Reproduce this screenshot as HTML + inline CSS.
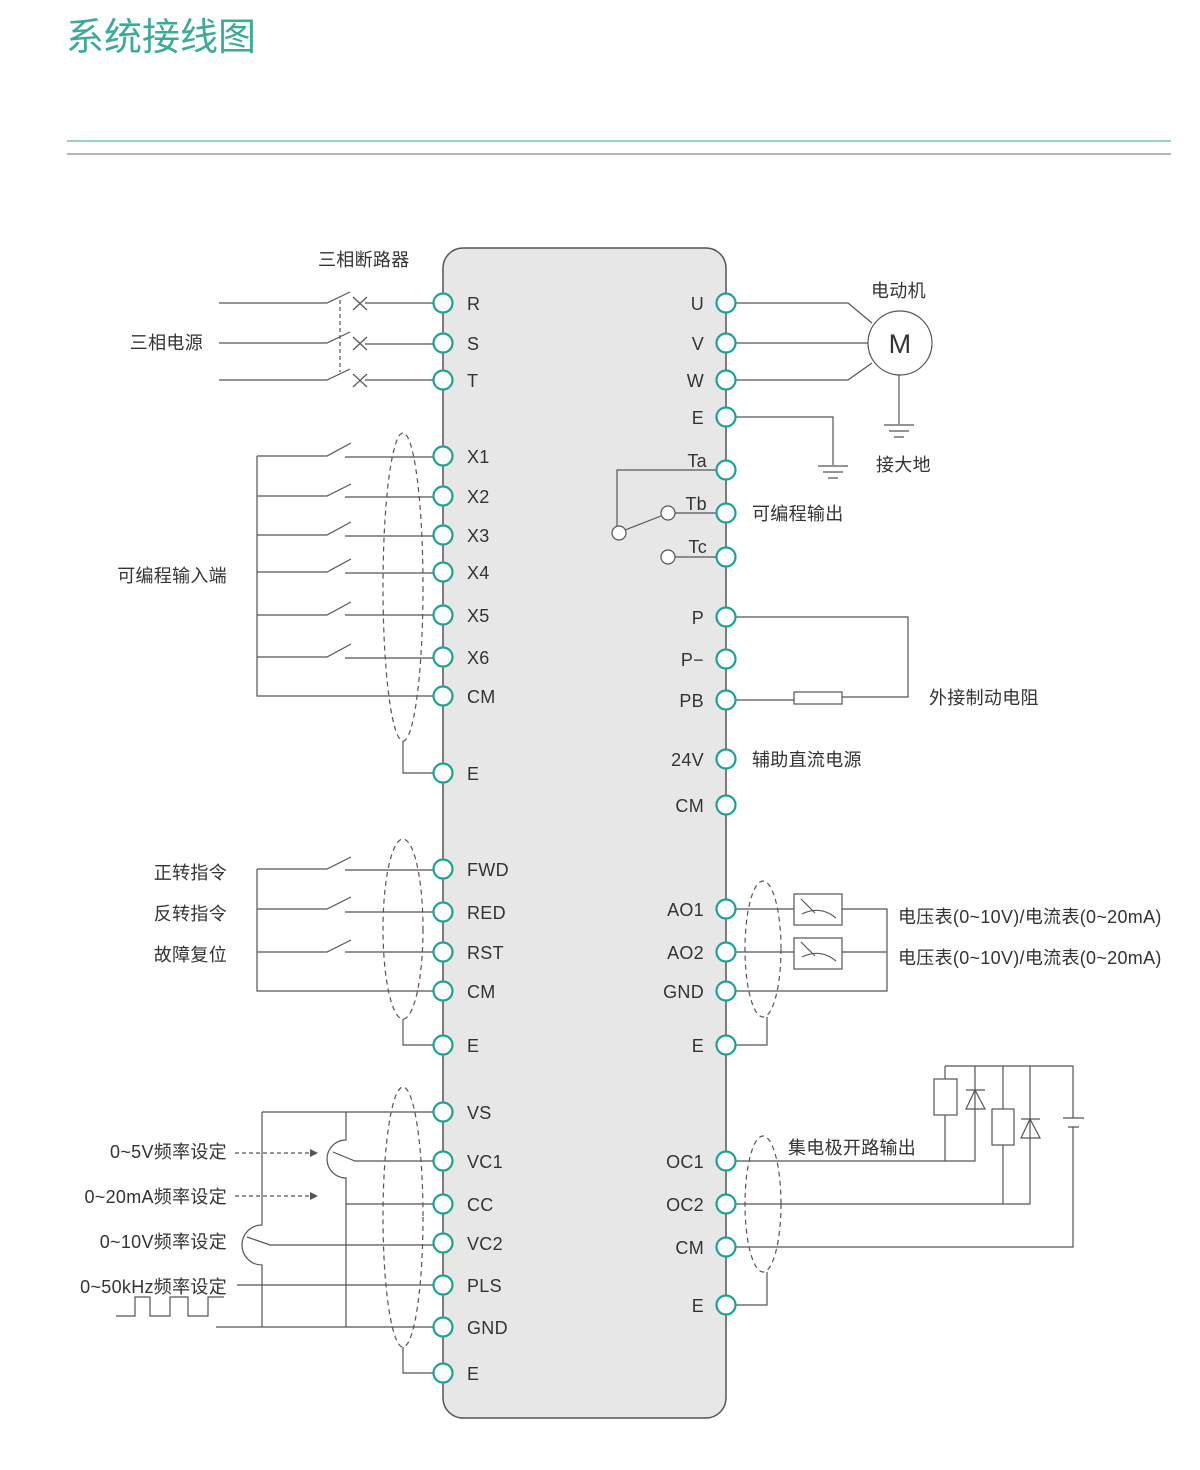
<!DOCTYPE html>
<html><head><meta charset="utf-8"><style>
html,body{margin:0;padding:0;background:#fff;}
svg{display:block;}
text{font-family:"Liberation Sans","Noto Sans CJK SC",sans-serif;fill:#333;font-size:18px;letter-spacing:0.3px;}
</style></head><body>
<svg width="1200" height="1470" viewBox="0 0 1200 1470" xmlns="http://www.w3.org/2000/svg">
<text x="66" y="50" style="font-size:38px;fill:#3aab98;letter-spacing:0;">系统接线图</text>
<line x1="67" y1="141" x2="1171" y2="141" stroke="#5fb5a8" stroke-width="1.2"/>
<line x1="67" y1="154" x2="1171" y2="154" stroke="#888" stroke-width="1.2"/>

<rect x="443" y="248" width="283" height="1170" rx="20" fill="#e8e7e7" stroke="#555" stroke-width="1.5"/>

<g stroke="#555" stroke-width="1.2" fill="none">
<path d="M219 303H327L350 292M365 303H433M219 343H327L350 332M365 344H433M219 380H327L350 369M365 380H433"/>
<path d="M353 297l14 13M367 297l-14 13M353 337l14 13M367 337l-14 13M353 374l14 13M367 374l-14 13"/>
<path d="M340 300V372" stroke-dasharray="4,3"/>
<path d="M257 456V696H433"/>
<path d="M257 456H327L351 443M345 457H433"/>
<path d="M257 496H327L351 484M345 497H433"/>
<path d="M257 535H327L351 522M345 536H433"/>
<path d="M257 572H327L351 559M345 573H433"/>
<path d="M257 615H327L351 602M345 615H433"/>
<path d="M257 657H327L351 644M345 658H433"/>
<ellipse cx="403" cy="587" rx="20" ry="154" stroke-dasharray="5,4"/>
<path d="M403 741V773H433"/>
<path d="M257 869V991H433"/>
<path d="M257 869H327L351 857M345 870H433"/>
<path d="M257 909H327L351 897M345 912H433"/>
<path d="M257 952H327L351 940M345 952H433"/>
<ellipse cx="403" cy="929" rx="20" ry="90" stroke-dasharray="5,4"/>
<path d="M403 1019V1045H433"/>
<path d="M262 1112H433M262 1112V1225A20 20 0 0 0 262 1265V1327"/>
<path d="M346 1112V1140A19 19 0 0 0 346 1178V1327"/>
<path d="M333 1152L355 1161H433M346 1204H433M247 1237L270 1245H433M237 1285H433M216 1327H433"/>
<path d="M116 1316H135V1297H150V1316H170V1297H188V1316H208V1297H224"/>
<path d="M235 1153H310M235 1196H310" stroke-dasharray="4,3"/>
<ellipse cx="403" cy="1217" rx="20" ry="130" stroke-dasharray="5,4"/>
<path d="M403 1347V1373H433"/>
<path d="M736 303H848L872 323M736 343H868M736 380H848L872 363"/>
<circle cx="900" cy="343" r="32"/>
<path d="M899 375V424M884 425H914M889 431H909M894 437H904"/>
<path d="M736 417H833V465M818 466H848M823 472H843M828 478H838"/>
<path d="M716 470H617V527M625 530L661 516M675 513H716M675 557H716"/>
<circle cx="619" cy="533" r="7" fill="#fff"/>
<circle cx="668" cy="513" r="7" fill="#fff"/>
<circle cx="668" cy="557" r="7" fill="#fff"/>
<path d="M736 617H908V697H842M736 700H794"/>
<rect x="794" y="692" width="48" height="12" fill="#fff"/>
<path d="M736 909H794M842 909H887V991H736M736 952H794M842 952H887"/>
<rect x="794" y="894" width="48" height="31"/>
<rect x="794" y="938" width="48" height="31"/>
<path d="M801 899L815 913M802 914Q820 905 836 918M801 942L815 956M802 957Q820 948 836 961"/>
<ellipse cx="763" cy="949" rx="18" ry="68" stroke-dasharray="5,4"/>
<path d="M767 1017V1045H736"/>
<path d="M945 1066H1073V1118M1073 1127V1247H736M945 1066V1079M945 1115V1161M975 1066V1161H736M1003 1066V1109M1003 1145V1204M1030 1066V1204H736"/>
<rect x="934" y="1079" width="23" height="36"/>
<rect x="992" y="1109" width="22" height="36"/>
<path d="M966 1090H985M975 1090L966 1109H985Z M1021 1119H1040M1030 1119L1021 1138H1040Z"/>
<path d="M1063 1118H1084M1068 1127H1079"/>
<ellipse cx="763" cy="1204" rx="18" ry="68" stroke-dasharray="5,4"/>
<path d="M767 1272V1305H736"/>
</g>
<g fill="#555">
<path d="M310 1149L318 1153L310 1157Z"/>
<path d="M310 1192L318 1196L310 1200Z"/>
</g>

<g fill="#fff" stroke="#1aa393" stroke-width="2.2">
<circle cx="443" cy="303" r="9.5"/><circle cx="443" cy="343" r="9.5"/><circle cx="443" cy="380" r="9.5"/>
<circle cx="443" cy="456" r="9.5"/><circle cx="443" cy="496" r="9.5"/><circle cx="443" cy="535" r="9.5"/>
<circle cx="443" cy="572" r="9.5"/><circle cx="443" cy="615" r="9.5"/><circle cx="443" cy="657" r="9.5"/>
<circle cx="443" cy="696" r="9.5"/><circle cx="443" cy="773" r="9.5"/>
<circle cx="443" cy="869" r="9.5"/><circle cx="443" cy="912" r="9.5"/><circle cx="443" cy="952" r="9.5"/>
<circle cx="443" cy="991" r="9.5"/><circle cx="443" cy="1045" r="9.5"/>
<circle cx="443" cy="1112" r="9.5"/><circle cx="443" cy="1161" r="9.5"/><circle cx="443" cy="1204" r="9.5"/>
<circle cx="443" cy="1243" r="9.5"/><circle cx="443" cy="1285" r="9.5"/><circle cx="443" cy="1327" r="9.5"/>
<circle cx="443" cy="1373" r="9.5"/>
<circle cx="726" cy="303" r="9.5"/><circle cx="726" cy="343" r="9.5"/><circle cx="726" cy="380" r="9.5"/>
<circle cx="726" cy="417" r="9.5"/><circle cx="726" cy="470" r="9.5"/><circle cx="726" cy="513" r="9.5"/>
<circle cx="726" cy="557" r="9.5"/><circle cx="726" cy="617" r="9.5"/><circle cx="726" cy="659" r="9.5"/>
<circle cx="726" cy="700" r="9.5"/><circle cx="726" cy="759" r="9.5"/><circle cx="726" cy="805" r="9.5"/>
<circle cx="726" cy="909" r="9.5"/><circle cx="726" cy="952" r="9.5"/><circle cx="726" cy="991" r="9.5"/>
<circle cx="726" cy="1045" r="9.5"/><circle cx="726" cy="1161" r="9.5"/><circle cx="726" cy="1204" r="9.5"/>
<circle cx="726" cy="1247" r="9.5"/><circle cx="726" cy="1305" r="9.5"/>
</g>

<g>
<text x="467" y="310">R</text><text x="467" y="350">S</text><text x="467" y="387">T</text>
<text x="467" y="463">X1</text><text x="467" y="503">X2</text><text x="467" y="542">X3</text>
<text x="467" y="579">X4</text><text x="467" y="622">X5</text><text x="467" y="664">X6</text>
<text x="467" y="703">CM</text><text x="467" y="780">E</text>
<text x="467" y="876">FWD</text><text x="467" y="919">RED</text><text x="467" y="959">RST</text>
<text x="467" y="998">CM</text><text x="467" y="1052">E</text>
<text x="467" y="1119">VS</text><text x="467" y="1168">VC1</text><text x="467" y="1211">CC</text>
<text x="467" y="1250">VC2</text><text x="467" y="1292">PLS</text><text x="467" y="1334">GND</text>
<text x="467" y="1380">E</text>
</g>
<g text-anchor="end">
<text x="704" y="310">U</text><text x="704" y="350">V</text><text x="704" y="387">W</text>
<text x="704" y="424">E</text><text x="707" y="467">Ta</text><text x="707" y="510">Tb</text>
<text x="707" y="553">Tc</text><text x="704" y="624">P</text><text x="704" y="666">P−</text>
<text x="704" y="707">PB</text><text x="704" y="766">24V</text><text x="704" y="812">CM</text>
<text x="704" y="916">AO1</text><text x="704" y="959">AO2</text><text x="704" y="998">GND</text>
<text x="704" y="1052">E</text><text x="704" y="1168">OC1</text><text x="704" y="1211">OC2</text>
<text x="704" y="1254">CM</text><text x="704" y="1312">E</text>
<text x="227" y="582">可编程输入端</text>
<text x="227" y="879">正转指令</text><text x="227" y="920">反转指令</text><text x="227" y="961">故障复位</text>
<text x="227" y="1158">0~5V频率设定</text><text x="227" y="1203">0~20mA频率设定</text>
<text x="227" y="1248">0~10V频率设定</text><text x="227" y="1293">0~50kHz频率设定</text>
<text x="203" y="349">三相电源</text>
</g>
<text x="318" y="266">三相断路器</text>
<text x="871" y="297">电动机</text>
<text x="900" y="353" text-anchor="middle" style="font-size:27px;">M</text>
<text x="876" y="471">接大地</text>
<text x="752" y="520">可编程输出</text>
<text x="929" y="704">外接制动电阻</text>
<text x="752" y="766">辅助直流电源</text>
<text x="898" y="923">电压表(0~10V)/电流表(0~20mA)</text>
<text x="898" y="964">电压表(0~10V)/电流表(0~20mA)</text>
<text x="788" y="1154">集电极开路输出</text>
</svg>
</body></html>
